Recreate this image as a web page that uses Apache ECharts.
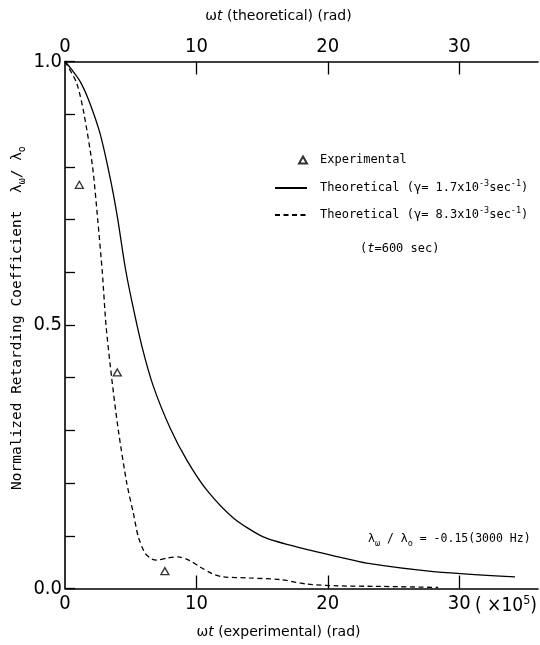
<!DOCTYPE html>
<html>
<head>
<meta charset="utf-8">
<script src="https://cdn.jsdelivr.net/npm/echarts@6.0.0/dist/echarts.min.js"></script>
<style>
html, body { margin: 0; padding: 0; background: #fff; }
#chart { width: 540px; height: 645px; }
</style>
</head>
<body>
<div id="chart"></div>
<script>
// wt (experimental) in units of 1e5 rad
var solidWt    = [0, 0.5, 1.2, 1.8, 2.66, 3.42, 3.98, 4.57, 5.07, 5.85, 6.72, 7.99, 9.26, 10.78, 12.81, 15.09, 17.63, 20.8, 22.96, 28.03, 34.25];
var solidRatio = [1.0, 0.985, 0.96, 0.927, 0.864, 0.781, 0.706, 0.611, 0.547, 0.46, 0.384, 0.305, 0.244, 0.187, 0.134, 0.098, 0.079, 0.06, 0.048, 0.032, 0.022];

var dashedWt    = [0, 0.89, 1.45, 2.1, 2.49, 2.84, 3.12, 3.55, 4.06, 4.7, 5.2, 5.58, 6.09, 6.6, 6.98, 7.8, 8.62, 9.5, 10.27, 11.2, 12.05, 14, 16.36, 18.4, 20.8, 24, 28.4];
var dashedRatio = [1.0, 0.959, 0.9, 0.8, 0.7, 0.6, 0.5, 0.4, 0.3, 0.2, 0.143, 0.098, 0.067, 0.056, 0.054, 0.058, 0.06, 0.053, 0.041, 0.028, 0.022, 0.02, 0.017, 0.0085, 0.005, 0.004, 0.002];

var expWt    = [1.09, 3.98, 7.6];
var expRatio = [0.766, 0.41, 0.033];

var xTicks = [0, 10, 20, 30];
var yLabelValues = [0, 0.5, 1.0];
var gammas = ['1.7', '8.3'];

function zip(xs, ys) {
    return xs.map(function (x, i) { return [x, ys[i]]; });
}

var narrow = "'Liberation Sans Narrow', 'DejaVu Sans Condensed', sans-serif";
var mono = "'DejaVu Sans Mono', monospace";
var sans = "'DejaVu Sans', sans-serif";

var myChart = echarts.init(document.getElementById('chart'));

function xAxisOf(pos, title, gap) {
    return {
        type: 'value',
        position: pos,
        min: 0,
        max: 36,
        interval: 10,
        axisLine: {lineStyle: {color: '#000', width: 1.6}},
        axisTick: {inside: true, length: 13, customValues: xTicks.slice(1), lineStyle: {color: '#000', width: 1.3}},
        axisLabel: {customValues: xTicks, margin: 5, color: '#000', fontSize: 20, fontFamily: narrow},
        splitLine: {show: false},
        name: title,
        nameLocation: 'middle',
        nameGap: gap,
        nameMoveOverlap: false,
        nameTextStyle: {
            color: '#000', fontSize: 14, fontFamily: sans, padding: [0, 46, 0, 0],
            rich: {it: {fontStyle: 'italic', fontSize: 14, fontFamily: sans, color: '#000'}}
        }
    };
}

var legendText = {
    color: '#000',
    fontSize: 12,
    fontFamily: mono,
    lineHeight: 18,
    padding: [0, 0, 0, 8],
    rich: {sup: {fontSize: 8.5, fontFamily: mono, color: '#000', verticalAlign: 'top', lineHeight: 10}}
};

myChart.setOption({
    animation: false,
    grid: {left: 65, right: 2, top: 61.5, bottom: 56.5, outerBoundsMode: 'none'},
    legend: [
        {
            data: ['Experimental'],
            orient: 'vertical',
            left: 298,
            top: 151,
            padding: 0,
            itemWidth: 8,
            itemHeight: 7,
            selectedMode: false,
            textStyle: legendText
        },
        {
            data: ['th0', 'th1'],
            orient: 'vertical',
            left: 274,
            top: 179,
            padding: 0,
            itemWidth: 32,
            itemHeight: 14,
            itemGap: 9,
            selectedMode: false,
            itemStyle: {opacity: 0},
            textStyle: legendText,
            formatter: function (name) {
                var g = gammas[name === 'th0' ? 0 : 1];
                return 'Theoretical (γ= ' + g + 'x10{sup|-3}sec{sup|-1})';
            }
        }
    ],
    xAxis: [
        xAxisOf('bottom', 'ω{it|t} (experimental) (rad)', 37),
        xAxisOf('top', 'ω{it|t} (theoretical) (rad)', 38)
    ],
    yAxis: {
        type: 'value',
        min: 0,
        max: 1,
        interval: 0.1,
        axisLine: {lineStyle: {color: '#000', width: 1.6}},
        axisTick: {inside: true, length: 10, lineStyle: {color: '#000', width: 1.3}},
        axisLabel: {
            customValues: yLabelValues, margin: 3, color: '#000', fontSize: 20, fontFamily: narrow,
            formatter: function (v) { return v.toFixed(1); }
        },
        splitLine: {show: false},
        name: 'Normalized Retarding Coefficient  λ{sub|ω}/ λ{sub|o}',
        nameLocation: 'middle',
        nameGap: 38,
        nameMoveOverlap: false,
        nameTextStyle: {
            color: '#000', fontSize: 14.5, fontFamily: mono, lineHeight: 20, padding: [0, 0, 0, 14],
            rich: {sub: {fontSize: 10, fontFamily: mono, color: '#000', verticalAlign: 'bottom', lineHeight: 12}}
        }
    },
    graphic: [
        {
            type: 'text', left: 360, top: 243,
            style: {
                text: '({it|t}=600 sec)', fontSize: 12, fontFamily: mono, fill: '#000',
                rich: {it: {fontStyle: 'italic', fontSize: 12, fontFamily: mono}}
            }
        },
        {
            type: 'text', left: 368, top: 530,
            style: {
                text: 'λ{sub|ω} / λ{sub|o} = -0.15(3000 Hz)', fontSize: 11.5, fontFamily: mono, fill: '#000', lineHeight: 18,
                rich: {sub: {fontSize: 8.5, fontFamily: mono, verticalAlign: 'bottom', lineHeight: 11}}
            }
        },
        {
            type: 'text', left: 475, top: 594,
            style: {
                text: '( ×10{sup|5})', fontSize: 19, fontFamily: narrow, fill: '#000', lineHeight: 24,
                rich: {sup: {fontSize: 12.5, fontFamily: narrow, verticalAlign: 'top', lineHeight: 14}}
            }
        }
    ],
    series: [
        {
            name: 'Experimental',
            type: 'scatter',
            symbol: 'triangle',
            symbolSize: [8, 7],
            itemStyle: {color: '#fff', borderColor: '#000', borderWidth: 1.3},
            data: zip(expWt, expRatio)
        },
        {
            name: 'th0',
            type: 'line',
            symbol: 'none',
            smooth: 0.25,
            itemStyle: {color: '#000'},
            lineStyle: {color: '#000', width: 1.3},
            data: zip(solidWt, solidRatio)
        },
        {
            name: 'th1',
            type: 'line',
            symbol: 'none',
            smooth: 0.25,
            itemStyle: {color: '#000'},
            lineStyle: {color: '#000', width: 1.3, type: [5, 3.5]},
            data: zip(dashedWt, dashedRatio)
        }
    ]
});
</script>
</body>
</html>
